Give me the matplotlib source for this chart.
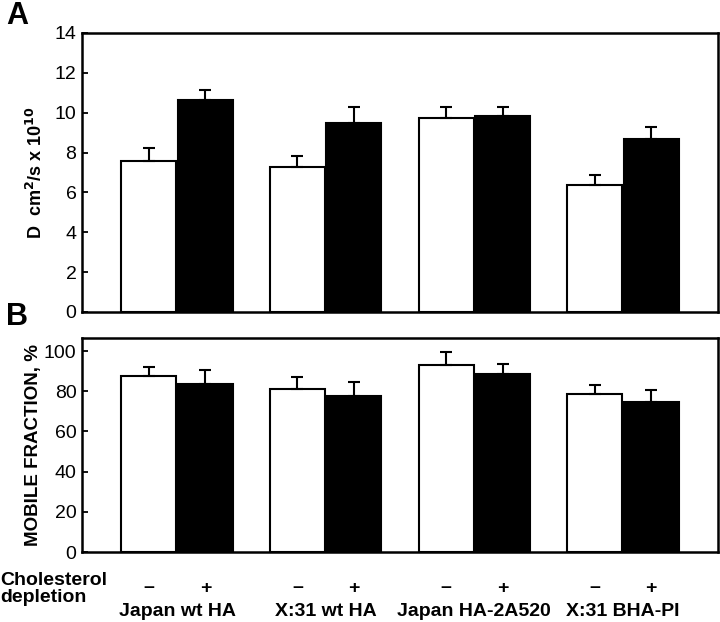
import numpy as np
import matplotlib
matplotlib.use("Agg")
import matplotlib.pyplot as plt
import matplotlib.transforms as mtransforms

plt.rcParams['font.family'] = ['Liberation Sans', 'DejaVu Sans']

groups = ["Japan wt HA", "X:31 wt HA", "Japan HA-2A520", "X:31 BHA-PI"]
depletion_labels = ["\u2013", "+"]

# panel A: diffusion coefficient (x 10^10 cm2/s)
diff_ctrl = [7.58, 7.27, 9.75, 6.38]
diff_ctrl_err = [0.65, 0.56, 0.55, 0.47]
diff_depl = [10.63, 9.48, 9.85, 8.68]
diff_depl_err = [0.52, 0.82, 0.43, 0.62]

# panel B: mobile fraction (%)
mob_ctrl = [87.6, 80.9, 93.0, 78.8]
mob_ctrl_err = [4.6, 6.2, 6.5, 4.4]
mob_depl = [83.7, 77.5, 88.7, 74.6]
mob_depl_err = [6.8, 7.1, 5.0, 6.1]

x = np.arange(len(groups))
off = 0.19
w = 0.37
lw = 1.5


def draw_bars(ax, ctrl, ctrl_err, depl, depl_err):
    zeros = np.zeros(len(ctrl))
    ekw = dict(elinewidth=lw, capthick=lw, capsize=4, ecolor='black')
    ax.bar(x - off, ctrl, w, color='white', edgecolor='black', linewidth=lw,
           yerr=[zeros, ctrl_err], error_kw=ekw, zorder=2)
    ax.bar(x + off, depl, w, color='black', edgecolor='black', linewidth=lw,
           yerr=[zeros, depl_err], error_kw=ekw, zorder=2)
    ax.set_xlim(-0.64, 3.64)
    ax.set_xticks([])
    for sp in ax.spines.values():
        sp.set_linewidth(1.8)
    ax.tick_params(axis='y', direction='in', length=4, width=1.3,
                   labelsize=14, pad=4)


fig = plt.figure(figsize=(7.2, 6.22), dpi=100)
axA = fig.add_axes([0.1139, 0.4984, 0.8833, 0.4486])
axB = fig.add_axes([0.1139, 0.1125, 0.8833, 0.3441])

draw_bars(axA, diff_ctrl, diff_ctrl_err, diff_depl, diff_depl_err)
axA.set_ylim(0, 14)
axA.set_yticks(range(0, 15, 2))
axA.set_ylabel("D  cm$^{\\mathbf{2}}$/s x 10$^{\\mathbf{10}}$", fontsize=13,
               fontweight='bold', labelpad=6)

draw_bars(axB, mob_ctrl, mob_ctrl_err, mob_depl, mob_depl_err)
axB.set_ylim(0, 106.5)
axB.set_yticks(range(0, 101, 20))
axB.set_ylabel("MOBILE FRACTION, %", fontsize=13.5, fontweight='bold', labelpad=1)

# depletion signs and group names under panel B
trans = mtransforms.blended_transform_factory(axB.transData, fig.transFigure)
for i, g in enumerate(groups):
    axB.text(x[i] - off, 1 - 588 / 622, depletion_labels[0], transform=trans,
             ha='center', va='center', fontsize=14, fontweight='bold')
    axB.text(x[i] + off, 1 - 588 / 622, depletion_labels[1], transform=trans,
             ha='center', va='center', fontsize=14, fontweight='bold')
    axB.text(x[i], 1 - 612 / 622, g, transform=trans,
             ha='center', va='center', fontsize=14, fontweight='bold')

fig.text(0.0, 1 - 589 / 622, "Cholesterol\ndepletion", ha='left', va='center',
         fontsize=14, fontweight='bold', linespacing=0.95)

fig.text(0.008, 0.998, "A", ha='left', va='top', fontsize=22, fontweight='bold')
fig.text(0.008, 1 - 302 / 622, "B", ha='left', va='top', fontsize=22, fontweight='bold')

fig.savefig("out.png", dpi=100)
